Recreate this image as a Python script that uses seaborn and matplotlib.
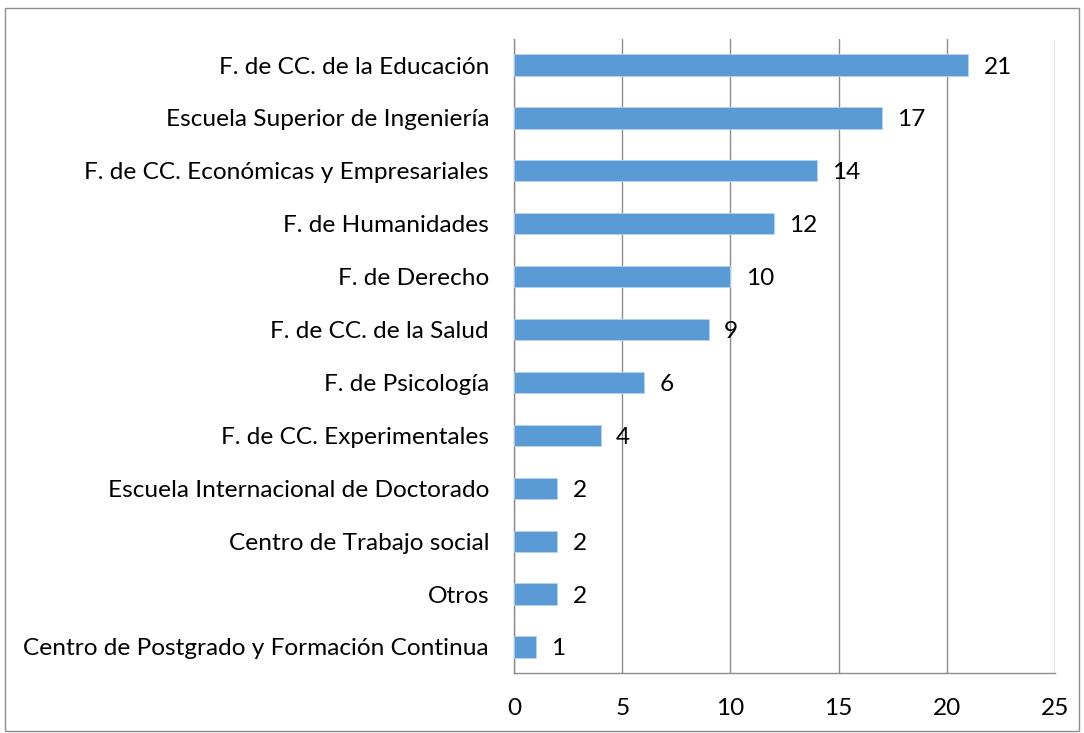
import matplotlib
matplotlib.use("Agg")
import matplotlib.pyplot as plt
import seaborn as sns
import pandas as pd
from matplotlib.patches import Rectangle
from matplotlib.ticker import FixedLocator

categories = [
    "F. de CC. de la Educación",
    "Escuela Superior de Ingeniería",
    "F. de CC. Económicas y Empresariales",
    "F. de Humanidades",
    "F. de Derecho",
    "F. de CC. de la Salud",
    "F. de Psicología",
    "F. de CC. Experimentales",
    "Escuela Internacional de Doctorado",
    "Centro de Trabajo social",
    "Otros",
    "Centro de Postgrado y Formación Continua",
]
values = [21, 17, 14, 12, 10, 9, 6, 4, 2, 2, 2, 1]
xticks = [0, 5, 10, 15, 20, 25]

df = pd.DataFrame({"cat": categories, "val": values})

sns.set_theme(style="white")
plt.rcParams["font.family"] = ["Lato", "DejaVu Sans"]

FS = 17.6

fig = plt.figure(figsize=(10.84, 7.33), dpi=100)
ax = fig.add_axes([0.4742, 0.0813, 0.4990, 0.866])

sns.barplot(data=df, x="val", y="cat", orient="h", color="#5B9BD5",
            saturation=1, width=0.4, edgecolor="#B8D3EE", linewidth=0.6, ax=ax, zorder=3)

ax.set_xlim(0, 25)
ax.set_ylim(len(categories) - 0.5, -0.5)
ax.set_xticks(xticks)
ax.set_xlabel("")
ax.set_ylabel("")
ax.grid(axis="x", color="#8C8C8C", linewidth=1.0, zorder=0)
ax.grid(axis="y", visible=False)
for s in ["top", "right"]:
    ax.spines[s].set_visible(False)
for s in ["left", "bottom"]:
    ax.spines[s].set_color("#8C8C8C")
    ax.spines[s].set_linewidth(1.0)

ax.tick_params(axis="x", which="major", length=7, color="#8C8C8C", width=1.0,
               labelsize=FS, pad=11, labelcolor="black")
ax.tick_params(axis="y", which="major", length=0, labelsize=FS, pad=18, labelcolor="black")
ax.yaxis.set_minor_locator(FixedLocator([i - 0.5 for i in range(len(categories) + 1)]))
ax.tick_params(axis="y", which="minor", length=7, color="#8C8C8C", width=1.0)

for c in ax.containers:
    texts = ax.bar_label(c, labels=[str(v) for v in values], padding=11, fontsize=FS, color="black")
    for t in texts:
        t.set_va("center_baseline")

fig.add_artist(Rectangle((5 / 1084, 1 - 731 / 733), 1074 / 1084, 723 / 733,
                         transform=fig.transFigure, fill=False,
                         edgecolor="#8C8C8C", linewidth=1.0))

fig.savefig("out.png", dpi=100)
